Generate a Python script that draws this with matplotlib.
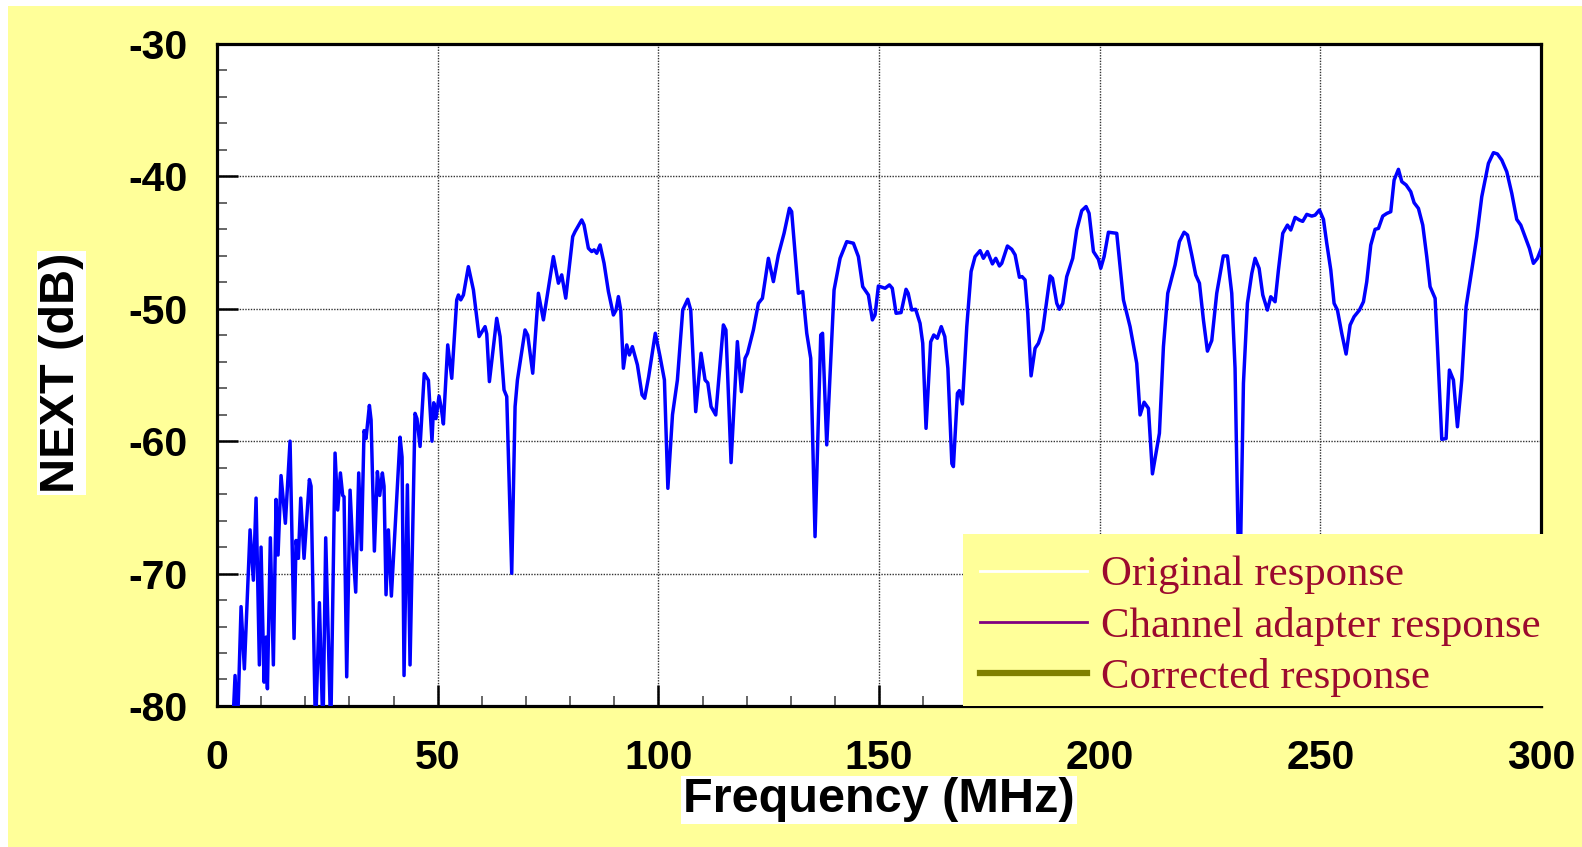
import matplotlib
matplotlib.use("Agg")
import matplotlib.pyplot as plt
from matplotlib.lines import Line2D
from matplotlib.patches import Rectangle
from matplotlib.ticker import MultipleLocator


# Datos de la medicion NEXT (frecuencia en MHz, nivel en dB)
frecuencia = [
    3.5, 4.08, 4.61, 5.44, 6.19, 7.48, 8.23, 8.84, 9.59, 9.97,
    10.65, 11.1, 11.41, 12.08, 12.76, 13.37, 13.82, 14.5, 15.48, 16.54,
    17.45, 17.9, 18.43, 18.96, 19.71, 20.92, 21.3, 22.3, 23.19, 24.0,
    24.62, 25.76, 26.74, 27.34, 27.95, 28.47, 28.78, 29.38, 30.14, 30.74,
    31.42, 32.1, 32.7, 33.31, 33.76, 34.52, 34.9, 35.65, 36.33, 36.86,
    37.46, 37.84, 38.29, 38.82, 39.5, 41.47, 41.92, 42.37, 43.13, 43.73,
    44.86, 45.3, 46.0, 46.95, 47.89, 48.7, 49.1, 49.6, 50.3, 50.8,
    51.29, 52.27, 53.18, 54.31, 54.69, 55.22, 55.82, 56.95, 58.09, 59.37,
    60.73, 61.11, 61.71, 63.37, 64.13, 65.03, 65.64, 66.77, 67.53, 68.06,
    69.79, 70.4, 71.53, 72.81, 73.95, 75.08, 76.21, 77.35, 78.1, 79.01,
    80.59, 81.12, 82.63, 83.16, 84.14, 84.9, 85.43, 86.03, 86.79, 87.69,
    88.68, 89.81, 90.41, 90.94, 91.47, 92.07, 92.83, 93.43, 94.11, 95.25,
    96.3, 96.9, 97.8, 99.3, 100.38, 101.37, 102.15, 103.2, 104.31, 105.52,
    106.65, 107.33, 108.46, 109.67, 110.58, 111.2, 111.94, 113.0, 114.73, 115.3,
    116.47, 117.9, 118.81, 119.64, 120.2, 121.53, 122.66, 123.57, 124.93, 126.06,
    127.19, 128.48, 129.69, 130.2, 131.72, 132.71, 133.62, 134.52, 135.5, 136.79,
    137.2, 138.15, 139.81, 141.17, 142.68, 144.19, 145.32, 146.3, 147.59, 148.49,
    149.1, 149.85, 151.36, 152.35, 153.0, 153.86, 154.99, 156.12, 156.6, 157.41,
    158.3, 159.29, 159.9, 160.65, 161.7, 162.4, 163.2, 164.1, 164.9, 165.6,
    166.5, 166.85, 167.76, 168.21, 168.89, 169.88, 170.86, 171.76, 172.9, 173.65,
    174.56, 175.69, 176.45, 177.28, 177.8, 179.09, 180.07, 180.83, 181.81, 182.4,
    183.09, 183.7, 184.45, 185.36, 186.11, 187.1, 188.76, 189.3, 190.27, 190.87,
    191.63, 192.53, 193.89, 194.8, 195.93, 196.91, 197.59, 198.58, 199.71, 200.24,
    201.0, 201.98, 203.86, 205.38, 206.88, 208.39, 209.15, 210.06, 211.04, 211.95,
    213.53, 214.44, 215.42, 217.08, 218.06, 219.12, 219.9, 220.86, 221.76, 222.6,
    223.5, 224.41, 225.39, 226.52, 228.0, 228.94, 229.92, 230.67, 231.66, 232.57,
    233.47, 234.46, 235.21, 236.12, 236.95, 238.0, 238.76, 239.74, 240.5, 241.48,
    242.54, 243.29, 244.28, 245.26, 246.0, 246.92, 248.05, 248.8, 249.79, 250.7,
    251.45, 252.36, 253.11, 253.87, 254.85, 255.83, 256.74, 257.64, 258.85, 259.76,
    260.51, 261.42, 262.4, 263.16, 264.14, 265.05, 265.95, 266.71, 267.69, 268.45,
    269.43, 270.48, 271.24, 272.22, 273.2, 274.11, 274.86, 276.0, 276.53, 277.51,
    278.49, 279.24, 280.15, 281.06, 282.04, 283.02, 284.31, 285.44, 286.57, 288.08,
    289.22, 290.12, 291.11, 292.24, 293.37, 294.5, 295.41, 296.39, 297.37, 298.28,
    299.19, 300.0,
]

next_db = [
    -82, -77.7, -82, -72.5, -77.2, -66.7, -70.5, -64.3, -76.9, -68.0,
    -78.2, -74.8, -78.7, -67.3, -76.9, -64.4, -68.6, -62.6, -66.2, -60.0,
    -74.9, -67.5, -68.85, -64.3, -68.85, -62.9, -63.4, -82, -72.2, -82,
    -67.3, -82, -60.9, -65.2, -62.4, -64.1, -64.2, -77.8, -63.7, -68.0,
    -71.4, -62.4, -68.2, -59.2, -59.8, -57.3, -58.4, -68.3, -62.3, -64.1,
    -62.4, -63.4, -71.6, -66.7, -71.7, -59.7, -61.2, -77.7, -63.3, -76.9,
    -57.9, -58.3, -60.4, -54.9, -55.4, -60.0, -57.1, -58.3, -56.6, -57.5,
    -58.7, -52.73, -55.25, -49.33, -48.96, -49.33, -48.96, -46.82, -48.58, -52.1,
    -51.35, -51.9, -55.5, -50.72, -52.1, -56.13, -56.63, -69.98, -57.39, -55.38,
    -51.6, -52.0, -54.87, -48.83, -50.84, -48.45, -46.06, -48.07, -47.44, -49.2,
    -44.55, -44.17, -43.29, -43.67, -45.43, -45.68, -45.55, -45.81, -45.18, -46.56,
    -48.7, -50.47, -50.1, -49.08, -50.1, -54.49, -52.73, -53.49, -52.86, -54.24,
    -56.5, -56.76, -55.12, -51.85, -53.61, -55.38, -63.56, -58.0, -55.38, -50.09,
    -49.28, -50.09, -57.77, -53.36, -55.38, -55.6, -57.39, -58.02, -51.22, -51.6,
    -61.62, -52.48, -56.26, -53.74, -53.36, -51.6, -49.59, -49.21, -46.19, -47.95,
    -45.93, -44.3, -42.41, -42.66, -48.83, -48.7, -51.85, -53.74, -67.21, -51.98,
    -51.85, -60.28, -48.58, -46.19, -44.93, -45.05, -46.06, -48.33, -48.96, -50.84,
    -50.46, -48.28, -48.45, -48.2, -48.45, -50.34, -50.29, -48.53, -48.83, -50.09,
    -50.04, -51.1, -52.6, -59.03, -52.5, -51.98, -52.23, -51.35, -52.1, -54.5,
    -61.7, -61.92, -56.38, -56.18, -57.19, -51.35, -47.19, -46.06, -45.61, -46.19,
    -45.68, -46.61, -46.19, -46.77, -46.57, -45.26, -45.51, -45.93, -47.62, -47.57,
    -47.82, -50.34, -55.07, -52.98, -52.61, -51.6, -47.52, -47.7, -49.59, -50.04,
    -49.59, -47.57, -46.19, -44.05, -42.59, -42.28, -42.79, -45.68, -46.26, -46.94,
    -46.06, -44.22, -44.3, -49.33, -51.35, -54.12, -58.02, -57.06, -57.52, -62.47,
    -59.4, -52.86, -48.83, -46.69, -44.93, -44.22, -44.43, -45.93, -47.45, -48.07,
    -50.84, -53.2, -52.4, -48.83, -46.01, -46.01, -48.83, -54.5, -73.0, -55.63,
    -49.59, -47.33, -46.19, -46.95, -48.96, -50.1, -49.09, -49.47, -47.07, -44.3,
    -43.68, -44.05, -43.1, -43.3, -43.4, -42.87, -43.0, -42.93, -42.54, -43.25,
    -45.06, -47.07, -49.59, -50.1, -51.86, -53.42, -51.23, -50.6, -50.1, -49.47,
    -47.96, -45.19, -44.0, -43.93, -43.0, -42.8, -42.67, -40.28, -39.47, -40.4,
    -40.65, -41.16, -41.99, -42.42, -43.68, -46.07, -48.33, -49.21, -52.86, -59.86,
    -59.8, -54.63, -55.38, -58.91, -55.38, -49.84, -47.07, -44.56, -41.54, -39.02,
    -38.21, -38.31, -38.77, -39.65, -41.28, -43.25, -43.68, -44.56, -45.44, -46.57,
    -46.19, -45.5,
]

# Entradas de la leyenda
leyenda_textos = ["Original response", "Channel adapter response", "Corrected response"]
leyenda_colores = ["#FFFFFF", "#800080", "#808000"]
leyenda_anchos = [2, 2, 4.5]

amarillo = "#FFFF99"
rojo_texto = "#9C0A2E"

plt.rcParams["axes.unicode_minus"] = False

fig = plt.figure(figsize=(15.82, 8.47), dpi=100)
fig.patch.set_facecolor("white")
fig.patches.append(Rectangle((0.005, 0), 0.995, 0.993, transform=fig.transFigure,
                             facecolor=amarillo, edgecolor="none", zorder=-10))

ax = fig.add_axes([0.1372, 0.1665, 0.8369, 0.7816])
ax.set_facecolor("white")

ax.plot(frecuencia, next_db, color="#0000FF", linewidth=2.5, zorder=3)

ax.set_xlim(0, 300)
ax.set_ylim(-80, -30)
ax.xaxis.set_major_locator(MultipleLocator(50))
ax.xaxis.set_minor_locator(MultipleLocator(10))
ax.yaxis.set_major_locator(MultipleLocator(10))
ax.yaxis.set_minor_locator(MultipleLocator(2))

ax.grid(True, which="major", linestyle=(0, (1, 1)), color="#333333", linewidth=1.0)

ax.tick_params(which="major", direction="in", length=15, width=1.8, color="black",
               top=False, right=False)
ax.tick_params(which="minor", direction="in", length=7, width=1.4, color="#666666",
               top=False, right=False)
ax.tick_params(axis="x", which="major", pad=24)
ax.tick_params(axis="y", which="major", pad=21)

for lbl in ax.get_xticklabels() + ax.get_yticklabels():
    lbl.set_fontfamily("Liberation Sans")
    lbl.set_fontweight("bold")
    lbl.set_fontsize(29.5)

for lado in ax.spines.values():
    lado.set_linewidth(2.3)
    lado.set_color("black")

caja_blanca = dict(facecolor="white", edgecolor="none", pad=1.5)
ax.set_xlabel("Frequency (MHz)", fontfamily="Liberation Sans", fontweight="bold",
              fontsize=35, bbox=caja_blanca)
ax.xaxis.set_label_coords(0.5, -0.142)
ax.xaxis.label.set_verticalalignment("center")
ax.set_ylabel("NEXT (dB)", fontfamily="Liberation Sans", fontweight="bold",
              fontsize=35, bbox=caja_blanca)
ax.yaxis.set_label_coords(-0.1178, 0.503)
ax.yaxis.label.set_verticalalignment("center")

# Fondo amarillo de la leyenda, tapa la esquina inferior derecha del grafico
fondo_leyenda = Rectangle((0.5634, 0.0), 0.4386, 0.26, transform=ax.transAxes,
                          facecolor=amarillo, edgecolor="none", zorder=9, clip_on=False)
ax.add_patch(fondo_leyenda)

manejadores = [Line2D([], [], color=c, linewidth=w)
               for c, w in zip(leyenda_colores, leyenda_anchos)]
leyenda = ax.legend(manejadores, leyenda_textos, loc="center left",
                    bbox_to_anchor=(0.5763, 0.1205),
                    borderaxespad=0, borderpad=0, labelspacing=0.285,
                    handlelength=2.5, handletextpad=0.33, frameon=False,
                    prop={"family": "Liberation Serif", "size": 30.8},
                    labelcolor=rojo_texto)
leyenda.set_zorder(10)

plt.savefig("out.png", dpi=100, facecolor=fig.get_facecolor())
